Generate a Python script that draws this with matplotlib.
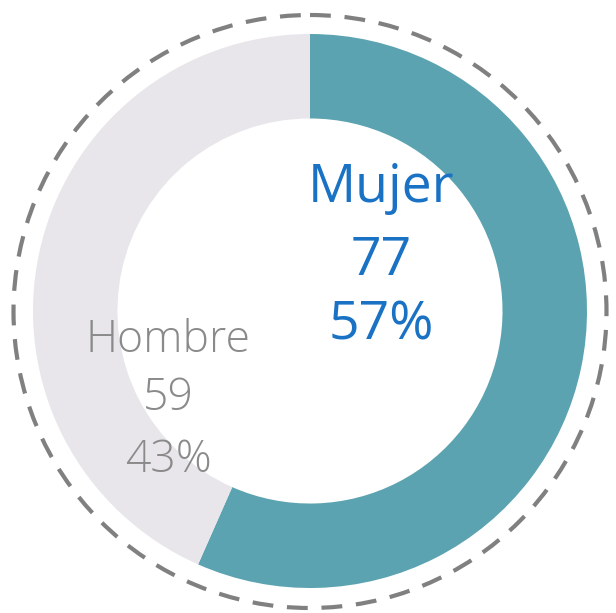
import matplotlib.pyplot as plt
from matplotlib.patches import Circle

# ── Data ──────────────────────────────────────────────────────────────────────
labels = ["Mujer", "Hombre"]
counts = [77, 59]
percents = ["57%", "43%"]
colors = ["#5ba3b0", "#e8e6ea"]
text_colors = ["#1a72c4", "#8a8a8a"]

W, H = 616, 613

fig = plt.figure(figsize=(W / 100, H / 100), dpi=100)
ax = fig.add_axes([0, 0, 1, 1])
ax.set_xlim(0, W)
ax.set_ylim(H, 0)
ax.set_aspect("equal")
ax.axis("off")

cx, cy = 310, 311
R = 277

# y axis is inverted, so counterclock=True draws clockwise on screen
ax.pie(counts, colors=colors, startangle=-90, counterclock=True,
       center=(cx, cy), radius=R,
       wedgeprops=dict(width=R * 0.305, linewidth=0))
ax.set_xlim(0, W)
ax.set_ylim(H, 0)

# dashed outer ring
ax.add_patch(Circle((cx, cy + 0.5), 296.5, fill=False, edgecolor="#808080",
                    linewidth=3.0, linestyle=(0, (5, 3.3))))

# ── Labels ────────────────────────────────────────────────────────────────────
font = ["Open Sans", "DejaVu Sans"]
ax.text(381, 202, labels[0], ha="center", va="baseline", fontsize=38.5,
        color=text_colors[0], family=font)
ax.text(381, 275, str(counts[0]), ha="center", va="baseline", fontsize=38.5,
        color=text_colors[0], family=font)
ax.text(381, 340, percents[0], ha="center", va="baseline", fontsize=38.5,
        color=text_colors[0], family=font)

ax.text(168, 352, labels[1], ha="center", va="baseline", fontsize=32,
        color=text_colors[1], family=font, weight="light")
ax.text(168, 410, str(counts[1]), ha="center", va="baseline", fontsize=32,
        color=text_colors[1], family=font, weight="light")
ax.text(168, 472, percents[1], ha="center", va="baseline", fontsize=32,
        color=text_colors[1], family=font, weight="light")

fig.savefig("out.png", dpi=100)
